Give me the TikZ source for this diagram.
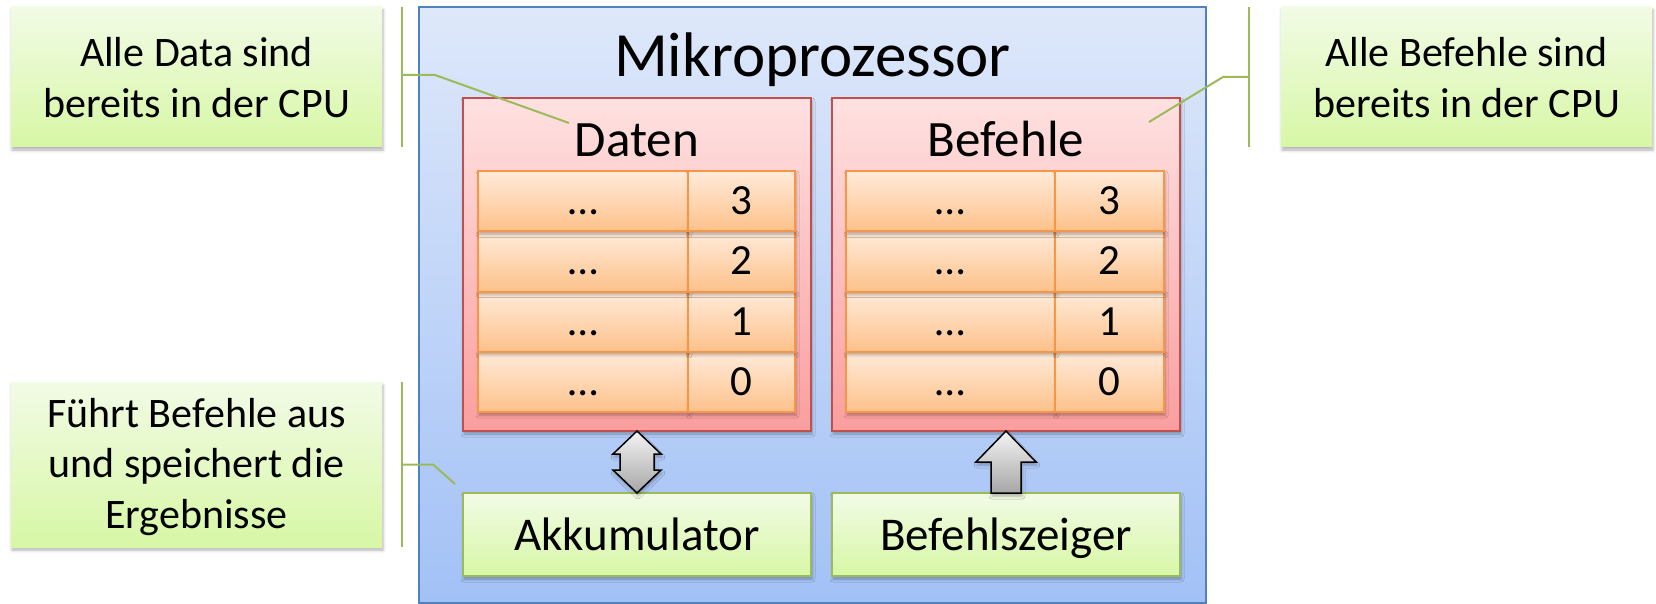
\documentclass[tikz,border=0pt]{standalone}
\usepackage{fontspec}
\setmainfont{Carlito}
\usetikzlibrary{shadows,shadows.blur,calc}
\definecolor{mikroTop}{HTML}{DEE8FA}
\definecolor{mikroBot}{HTML}{A2C1F6}
\definecolor{mikroLine}{HTML}{4F81BD}
\definecolor{redTop}{HTML}{FFE1E1}
\definecolor{redBot}{HTML}{FA9E9E}
\definecolor{redLine}{HTML}{C0504D}
\definecolor{orTop}{HTML}{FFEBDA}
\definecolor{orBot}{HTML}{FDC18A}
\definecolor{orLine}{HTML}{F79646}
\definecolor{grTop}{HTML}{F2FBE6}
\definecolor{grBot}{HTML}{D7F7A5}
\definecolor{grLine}{HTML}{9BBB59}
\definecolor{arTop}{HTML}{F4F4F4}
\definecolor{arBot}{HTML}{A6A6A6}
\begin{document}
\begin{tikzpicture}[x=1pt,y=-1pt,
  shadowed/.style={blur shadow={shadow xshift=1pt, shadow yshift=-3pt, shadow blur radius=3pt, shadow opacity=30}},
  basebox/.style={rectangle, inner sep=0pt, outer sep=0pt, anchor=north west},
  mikrobox/.style={basebox, draw=mikroLine, line width=1.5pt, top color=mikroTop, bottom color=mikroBot},
  redbox/.style={basebox, draw=redLine, line width=1.5pt, top color=redTop, bottom color=redBot, shadowed},
  cellbox/.style={basebox, draw=orLine, line width=2pt, top color=orTop, bottom color=orBot, shadowed,
    font=\fontsize{43}{50}\selectfont, text height=27pt, text depth=0pt},
  greenbox/.style={basebox, draw=grLine, line width=2pt, top color=grTop, bottom color=grBot, shadowed,
    font=\fontsize{47}{55}\selectfont, text height=31pt, text depth=0pt},
  calloutbox/.style={basebox, top color=grTop, bottom color=grBot, shadowed},
  calltext/.style={align=center, inner sep=0pt, font=\fontsize{42}{50.5}\selectfont},
  titletext/.style={anchor=base, inner sep=0pt, font=\fontsize{63}{70}\selectfont},
  headtext/.style={anchor=base, inner sep=0pt, font=\fontsize{51}{60}\selectfont},
  accentbar/.style={draw=grLine, line width=2pt},
  leader/.style={draw=grLine, line width=2pt},
  grayarrow/.style={draw=black, line width=1.5pt, top color=arTop, bottom color=arBot, line join=miter, shadowed}
]
\useasboundingbox (0,0) rectangle (1656,604);

% callouts
\node[calloutbox, minimum width=371pt, minimum height=140pt] (c1) at (11,7) {};
\node[calloutbox, minimum width=371pt, minimum height=140pt] (c2) at (1281,7) {};
\node[calloutbox, minimum width=371pt, minimum height=165pt] (c3) at (11,382) {};
\node[calltext, anchor=base] (c1t) at (196.5,117.5) {Alle Data sind\\bereits in der CPU};
\node[calltext, anchor=base] (c2t) at (1466.5,117.5) {Alle Befehle sind\\bereits in der CPU};
\node[calltext, anchor=base] (c3t) at (196.5,528) {Führt Befehle aus\\und speichert die\\Ergebnisse};

% microprocessor
\node[mikrobox, minimum width=787pt, minimum height=596pt] (mikro) at (419,7) {};
\node[titletext] (title) at (812.5,77) {Mikroprozessor};

\node[redbox, minimum width=348pt, minimum height=333pt] (daten) at (463,98) {};
\node[redbox, minimum width=348pt, minimum height=333pt] (befehle) at (832,98) {};
\node[headtext] (datenlbl) at (637,157) {Daten};
\node[headtext] (befehlelbl) at (1006,157) {Befehle};

\foreach \n/\y in {0/351.9,1/291.6,2/231.3,3/171} {
  \node[cellbox, minimum width=210pt, minimum height=60.3pt] (dl\n) at (478,\y) {…};
  \node[cellbox, minimum width=107pt, minimum height=60.3pt] (dr\n) at (688,\y) {\n};
  \node[cellbox, minimum width=209pt, minimum height=60.3pt] (bl\n) at (846,\y) {…};
  \node[cellbox, minimum width=109pt, minimum height=60.3pt] (br\n) at (1055,\y) {\n};
}

\node[greenbox, minimum width=348pt, minimum height=83pt] (akku) at (463,493) {Akkumulator};
\node[greenbox, minimum width=348pt, minimum height=83pt] (bz) at (832,493) {Befehlszeiger};

% arrows
\draw[grayarrow] (daten.south) -- ++(24,23) -- ++(-7,0) -- ++(0,16) -- ++(7,0) -- (akku.north)
  -- ++(-24,-23) -- ++(7,0) -- ++(0,-16) -- ++(-7,0) -- cycle;
\draw[grayarrow] (befehle.south) -- ++(30,31) -- ++(-15,0) -- ($(bz.north)+(15,0)$)
  -- ($(bz.north)+(-15,0)$) -- ++(0,-31) -- ++(-15,0) -- cycle;

% callout bars and leaders
\coordinate (p1) at (569,123);
\coordinate (p2) at (1149,122);
\coordinate (p3) at (455,484);
\draw[accentbar] ($(c1.north east)+(20,0)$) -- ($(c1.south east)+(20,0)$);
\draw[accentbar] ($(c2.north west)+(-32,0)$) -- ($(c2.south west)+(-32,0)$);
\draw[accentbar] ($(c3.north east)+(20,0)$) -- ($(c3.south east)+(20,0)$);
\draw[leader] ($(c1.east)+(20,-2)$) -- ++(33,0) -- (p1);
\draw[leader] ($(c2.west)+(-32,0)$) -- ++(-26,0) -- (p2);
\draw[leader] ($(c3.east)+(20,0)$) -- ++(31,0) -- (p3);
\end{tikzpicture}
\end{document}
